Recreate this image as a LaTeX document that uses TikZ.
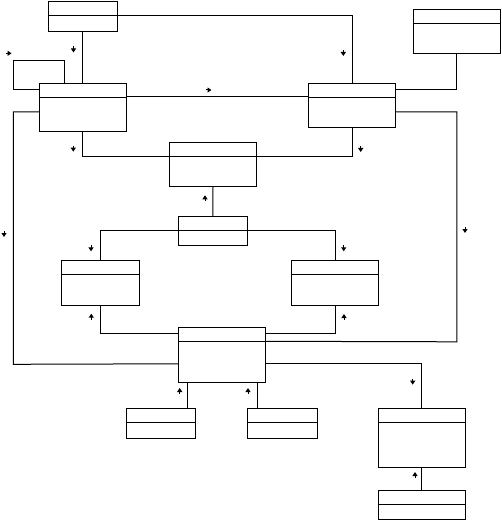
\documentclass[tikz,border=0pt]{standalone}
\usetikzlibrary{arrows.meta}

\tikzset{
  umlclass/.style={draw, rectangle, inner sep=0pt, line width=1pt},
  navmark/.style={-{Triangle[length=4pt,width=5pt]}, line width=1pt}
}

\begin{document}
\begin{tikzpicture}[x=1pt, y=-1pt, line width=1pt, line join=miter]
  \useasboundingbox (0,0) rectangle (501,521);

  % classes
  \node[umlclass, minimum width=69pt, minimum height=30pt] (top) at (82.8,16.3) {};
  \node[umlclass, minimum width=87pt, minimum height=48pt] (left) at (82.8,107.3) {};
  \node[umlclass, minimum width=87pt, minimum height=44pt] (right) at (352,105.3) {};
  \node[umlclass, minimum width=87pt, minimum height=44pt] (corner) at (456.8,31.3) {};
  \node[umlclass, minimum width=87pt, minimum height=44pt] (centre) at (213,164.3) {};
  \node[umlclass, minimum width=69pt, minimum height=29pt] (small) at (212.8,230.8) {};
  \node[umlclass, minimum width=78pt, minimum height=45pt] (west) at (100.3,282.8) {};
  \node[umlclass, minimum width=87pt, minimum height=45pt] (east) at (335,282.8) {};
  \node[umlclass, minimum width=87pt, minimum height=55pt] (hub) at (222,354.8) {};
  \node[umlclass, minimum width=69pt, minimum height=30pt] (leafa) at (161,423.5) {};
  \node[umlclass, minimum width=70pt, minimum height=30pt] (leafb) at (282.5,423.5) {};
  \node[umlclass, minimum width=87pt, minimum height=59pt] (lower) at (421.8,437.8) {};
  \node[umlclass, minimum width=87pt, minimum height=29pt] (bottom) at (421.8,504.8) {};

  % name compartments
  \foreach \n in {top,left,right,corner,centre,small,west,east,hub,leafa,leafb,lower,bottom}
    \draw ([yshift=-14.5pt]\n.north west) -- ([yshift=-14.5pt]\n.north east);

  % bends
  \coordinate (loop) at (13.3,60.3);
  \coordinate (westbend) at (13.3,364.3);
  \coordinate (eastbend) at (456.8,341.8);

  % associations
  \draw (top.south) -- (left.north);
  \draw ([yshift=-14.5pt]top.north east) -| (right.north);
  \draw ([yshift=-7pt]left.north west) -| (loop) -| ([xshift=26pt]left.north west);
  \draw ([yshift=-14pt]left.north east) -- ([yshift=-14pt]right.north west);
  \draw (corner.south) |- ([yshift=-7pt]right.north east);
  \draw ([yshift=-29pt]right.north east) -| (eastbend) -- ([yshift=-14.5pt]hub.north east);
  \draw ([yshift=-29pt]left.north west) -| (westbend) -- ([yshift=-37pt]hub.north west);
  \draw (left.south) |- ([yshift=-14.5pt]centre.north west);
  \draw (right.south) |- ([yshift=-14.5pt]centre.north east);
  \draw (small.north) -- (centre.south);
  \draw ([yshift=-14.5pt]small.north west) -| (west.north);
  \draw ([yshift=-14.5pt]small.north east) -| (east.north);
  \draw (west.south) |- ([yshift=-7pt]hub.north west);
  \draw (east.south) |- ([yshift=-7pt]hub.north east);
  \draw ([xshift=9pt]hub.south west) -- ([xshift=9pt]hub.south west |- leafa.north);
  \draw ([xshift=-9pt]hub.south east) -- ([xshift=-9pt]hub.south east |- leafb.north);
  \draw ([yshift=-37pt]hub.north east) -| (lower.north);
  \draw (bottom.north) -- (lower.south);

  % reading direction marks
  \foreach \x/\y/\dx/\dy in {8.5/53.3/1/0, 208.5/90/1/0,
      73.5/49.5/0/1, 343.3/53/0/1, 4/234/0/1, 465/230/0/1,
      73.3/148.7/0/1, 360.7/149/0/1, 91/248.3/0/1, 343.7/248.3/0/1, 412.7/381.7/0/1,
      205/198.3/0/-1, 91.3/316.7/0/-1, 344/317/0/-1, 179.7/391/0/-1, 248/391/0/-1, 415/475/0/-1}
    \draw[navmark] (\x-3*\dx,\y-3*\dy) -- (\x+3*\dx,\y+3*\dy);
\end{tikzpicture}
\end{document}
